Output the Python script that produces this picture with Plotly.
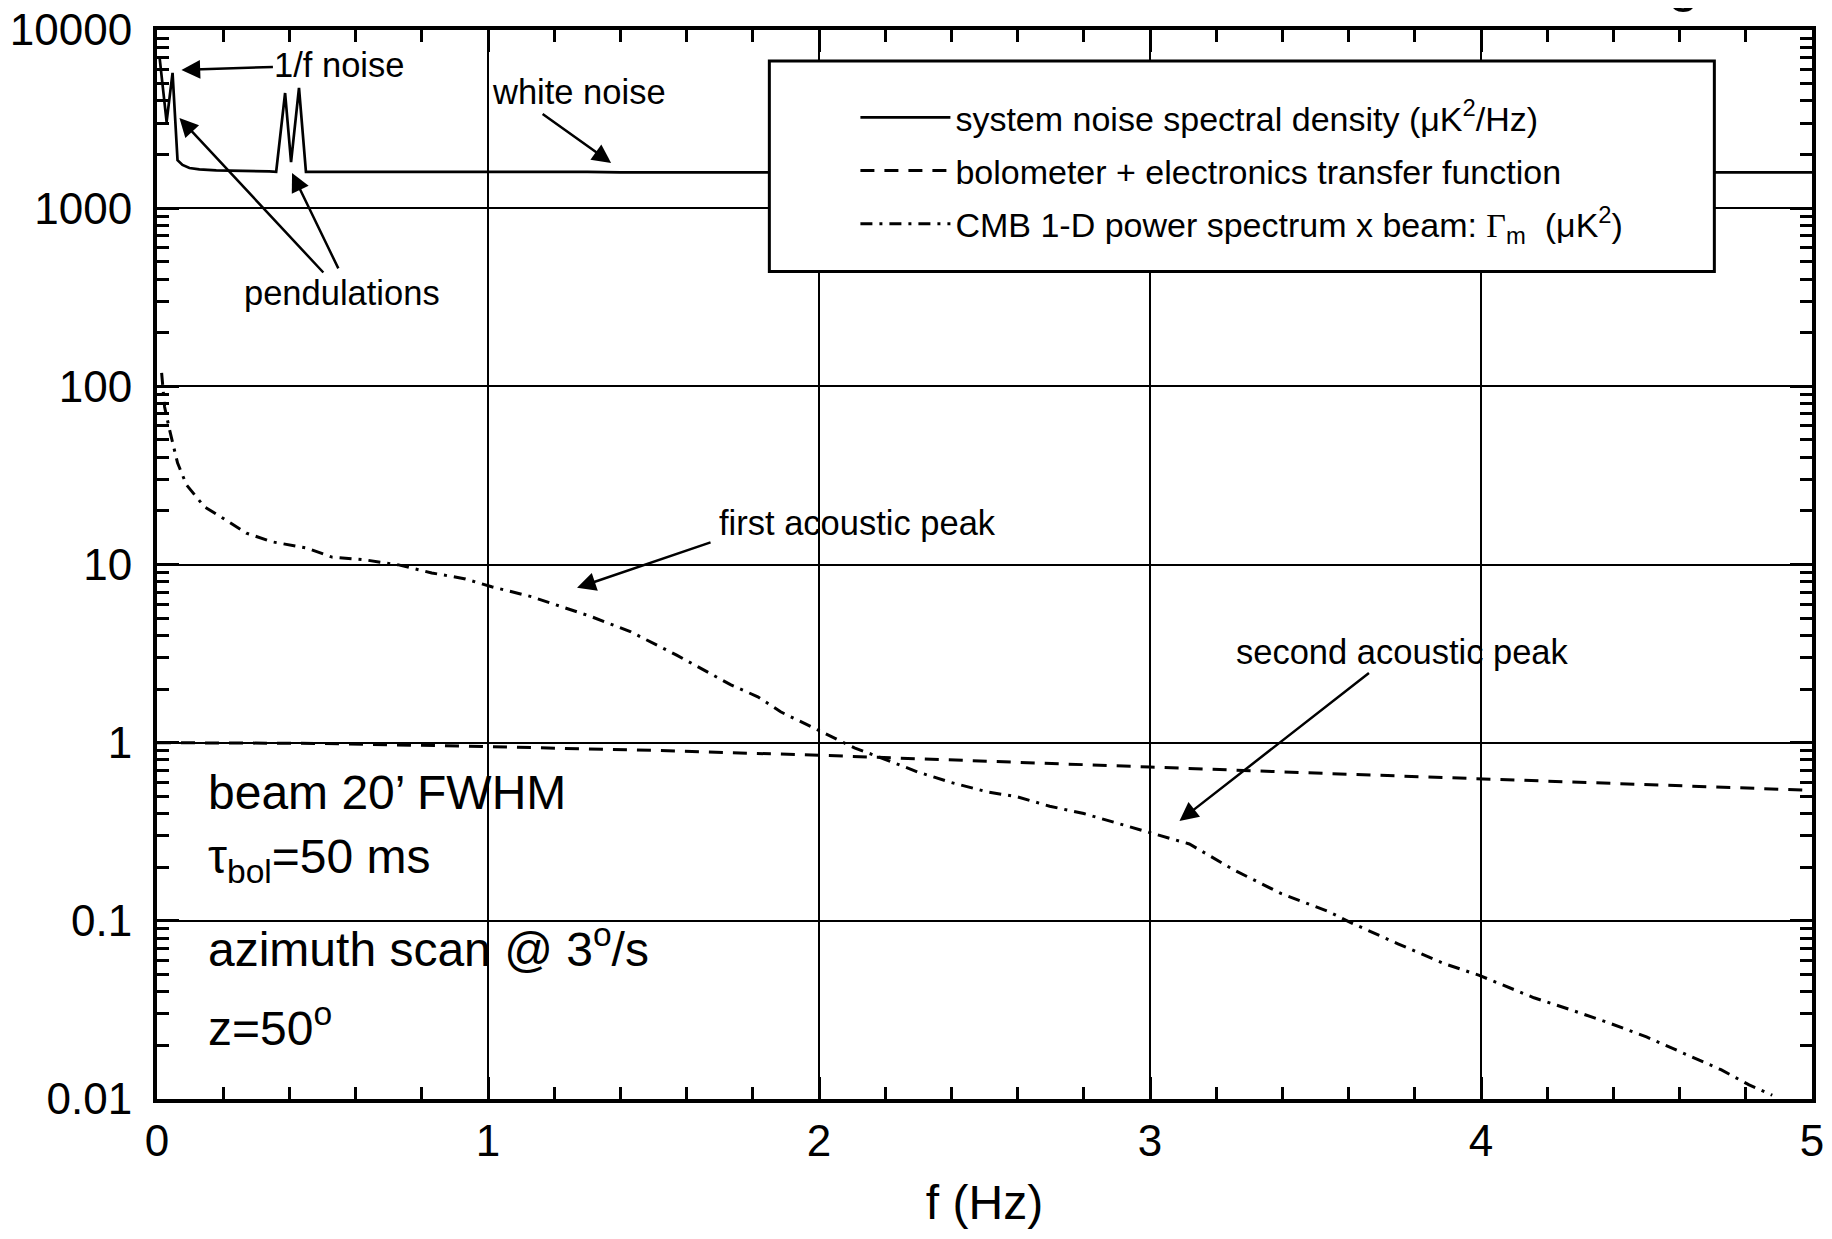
import plotly.graph_objects as go

# ---------------- data ----------------
noise_f = [0.008, 0.029, 0.047, 0.062, 0.077, 0.098, 0.128, 0.179, 0.339, 0.360,
           0.387, 0.405, 0.429, 0.450, 1.30, 1.40, 5.0]
noise_v = [6960, 3050, 5740, 1860, 1750, 1680, 1650, 1630, 1610, 1600,
           4430, 1815, 4730, 1600, 1600, 1590, 1590]

tf_f = [0.0, 0.5, 1.0, 1.5, 2.0, 2.5, 3.0, 3.5, 4.0, 4.5, 5.0]
tf_v = [1.0, 0.99, 0.95, 0.905, 0.85, 0.79, 0.73, 0.675, 0.625, 0.58, 0.54]

cmb_f = [0.014, 0.023, 0.038, 0.062, 0.089, 0.143, 0.197, 0.270, 0.348, 0.450,
         0.529, 0.631, 0.730, 0.830, 0.932, 1.011, 1.131, 1.312, 1.43, 1.57,
         1.734, 1.815, 1.884, 1.945, 1.998, 2.056, 2.107, 2.197, 2.297, 2.396,
         2.507, 2.598, 2.697, 2.800, 2.899, 2.998, 3.119, 3.256, 3.397, 3.538,
         3.608, 3.749, 3.889, 3.995, 4.16, 4.277, 4.387, 4.50, 4.61, 4.725,
         4.81, 4.88]
cmb_v = [119, 76.6, 56.9, 37.2, 28.0, 21.1, 18.3, 15.0, 13.4, 12.4,
         11.0, 10.6, 9.95, 8.97, 8.3, 7.5, 6.6, 5.1, 4.2, 3.1,
         2.11, 1.81, 1.49, 1.31, 1.18, 1.04, 0.935, 0.81, 0.686, 0.60,
         0.53, 0.497, 0.44, 0.40, 0.355, 0.315, 0.27, 0.192, 0.142, 0.113,
         0.0975, 0.0743, 0.0575, 0.0494, 0.037, 0.0314, 0.0267, 0.0223, 0.0182, 0.0146,
         0.012, 0.0105]

x_ticks = [0, 1, 2, 3, 4, 5]
y_ticks = [0.01, 0.1, 1, 10, 100, 1000, 10000]
y_ticktext = ["0.01", "0.1", "1", "10", "100", "1000", "10000"]

FONT = "Liberation Sans, Arial, Helvetica, sans-serif"

fig = go.Figure()
fig.add_trace(go.Scatter(
    x=noise_f, y=noise_v, mode="lines", legendgroup="a",
    name="system noise spectral density (\u03bcK<sup>2</sup>/Hz)",
    line=dict(color="black", width=2.7)))
fig.add_trace(go.Scatter(
    x=tf_f, y=tf_v, mode="lines", legendgroup="b",
    name="bolometer + electronics transfer function",
    line=dict(color="black", width=3, dash="14px,10px")))
fig.add_trace(go.Scatter(
    x=cmb_f, y=cmb_v, mode="lines", legendgroup="c",
    name="CMB 1-D power spectrum x beam: <span style='font-family:serif'>\u0393</span><sub>m</sub>  (\u03bcK<sup>2</sup>)",
    line=dict(color="black", width=3, dash="12px,7px,3px,7px")))

minor_y = [m * 10 ** e for e in range(-2, 4) for m in range(2, 10)]

axis_common = dict(
    showline=True, linecolor="black", linewidth=4, mirror="allticks",
    ticks="inside", tickcolor="black", tickwidth=3, ticklen=22,
    showgrid=True, gridcolor="black", gridwidth=1.5, zeroline=False,
    automargin=False, ticklabeloverflow="allow",
    tickfont=dict(family=FONT, size=44, color="black"),
)

fig.update_xaxes(
    range=[0, 5], tickmode="array", tickvals=x_ticks,
    minor=dict(tickmode="linear", tick0=0, dtick=0.2, ticks="inside",
               ticklen=12, tickwidth=3, tickcolor="black", showgrid=False),
    title=dict(text="f (Hz)", font=dict(family=FONT, size=48, color="black"), standoff=23),
    ticklabelstandoff=0,
    **axis_common)
fig.update_yaxes(
    type="log", range=[-2, 4], tickmode="array", tickvals=y_ticks, ticktext=y_ticktext,
    minor=dict(tickmode="array", tickvals=minor_y, ticks="inside",
               ticklen=12, tickwidth=3, tickcolor="black", showgrid=False),
    ticklabelstandoff=12,
    **axis_common)

# legend frame
fig.add_shape(type="rect", xref="paper", yref="paper",
              x0=0.370, x1=0.941, y0=0.774, y1=0.971,
              fillcolor="white", line=dict(color="black", width=3), layer="above")

ann_font = dict(family=FONT, size=34.5, color="black")
arrow = dict(showarrow=True, arrowhead=2, arrowsize=1.5, arrowwidth=2.5, arrowcolor="black",
             axref="pixel", ayref="pixel")

annotations = []
# labels that carry their own arrow (head in data units, label offset in pixels)
for txt, x, y, ax, ay in [("1/f noise", 0.0738, 3.776, 158, -5),
                          ("pendulations", 0.0678, 3.506, 163, 175)]:
    annotations.append(dict(x=x, y=y, xref="x", yref="y", text=txt, ax=ax, ay=ay,
                            font=ann_font, **arrow))
# plain labels
for txt, x, y in [("white noise", 1.2756, 3.652), ("first acoustic peak", 2.116, 1.233),
                  ("second acoustic peak", 3.763, 0.510)]:
    annotations.append(dict(x=x, y=y, xref="x", yref="y", text=txt, showarrow=False,
                            font=ann_font, xanchor="center", yanchor="middle"))
# extra arrows (head position in data units, tail offset in pixels)
for x, y, ax, ay in [(0.408, 3.198, 47, 97), (1.372, 3.254, -70, -50),
                     (1.269, 0.869, 135, -46), (3.089, -0.439, 191, -149)]:
    annotations.append(dict(x=x, y=y, xref="x", yref="y", text="", ax=ax, ay=ay, **arrow))

big_font = dict(family=FONT, size=48, color="black")
for txt, y in [("beam 20\u2019 FWHM", -0.282), ("\u03c4<sub>bol</sub>=50 ms", -0.658),
               ("azimuth scan @ 3<sup>o</sup>/s", -1.140), ("z=50<sup>o</sup>", -1.584)]:
    annotations.append(dict(x=0.149, y=y, xref="x", yref="y", text=txt, showarrow=False,
                            font=big_font, xanchor="left", yanchor="middle"))

# fragment of a title cut by the top edge of the page
annotations.append(dict(x=0.9226, y=1.015, xref="paper", yref="paper", text="g",
                        showarrow=False, font=dict(family=FONT, size=56, color="black"),
                        xanchor="center", yanchor="bottom"))

fig.update_layout(
    width=1816, height=1223,
    margin=dict(l=149, r=12, t=22, b=132),
    paper_bgcolor="white", plot_bgcolor="white",
    font=dict(family=FONT, color="black"),
    showlegend=True,
    legend=dict(x=0.422, y=0.945, xanchor="left", yanchor="top",
                bgcolor="rgba(0,0,0,0)", borderwidth=0, itemwidth=90,
                font=dict(family=FONT, size=34, color="black"),
                tracegroupgap=6, traceorder="grouped"),
    annotations=annotations,
)

fig.write_html("out.html")
